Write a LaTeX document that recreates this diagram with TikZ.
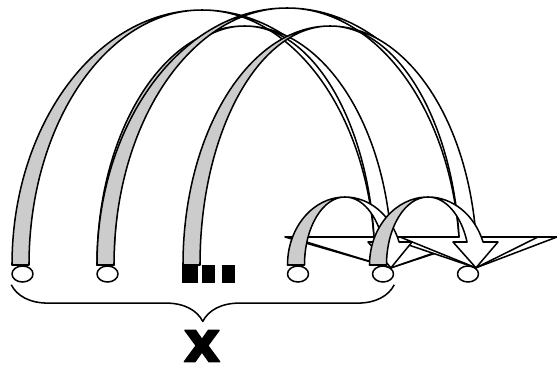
\documentclass[tikz,border=0pt]{standalone}
\usepackage{fontspec}
\newfontfamily\xfont{DejaVu Sans}[BoldFeatures={FakeBold=2.5}]
\usetikzlibrary{shapes.geometric,decorations.pathreplacing}
\definecolor{BandGray}{HTML}{CCCCCC}

% curved band arrow: centre x, x radius, y radius, width, head base y, head left x, head right x, tip
\newcommand\bandarrow[8]{%
  \pgfmathsetmacro\bandin{#2-#4}%
  \pgfmathsetmacro\bandend{360-asin((265-#5)/#3)}%
  \pgfmathsetmacro\bandinx{#1+\bandin*cos(\bandend)}%
  \filldraw[bandback] (#1-#2,265) arc[start angle=180,end angle=270,x radius=#2,y radius=#3]
    arc[start angle=270,end angle=180,x radius=\bandin,y radius=#3] -- cycle;
  \filldraw[bandfront] (#1,265-#3) arc[start angle=270,end angle=\bandend,x radius=#2,y radius=#3]
    -- (#7,#5) -- (#8) -- (#6,#5) -- (\bandinx,#5)
    arc[start angle=\bandend,end angle=270,x radius=\bandin,y radius=#3] -- cycle;
}

\begin{document}
\begin{tikzpicture}[x=0.03cm,y=-0.03cm,line width=1.3pt,line join=round,
  bandback/.style={draw=black,fill=BandGray},
  bandfront/.style={draw=black,fill=white},
  cell/.style={ellipse,draw,fill=white,minimum width=0.63cm,minimum height=0.48cm,inner sep=0pt},
  gap/.style={fill=black,minimum height=0.53cm,inner sep=0pt}]
\useasboundingbox (0,0) rectangle (557,369);

% sequence
\node[cell] (n1) at (22.5,274) {};
\node[cell] (n2) at (107.5,274) {};
\node[gap,minimum width=0.5cm] (s1) at (190,274) {};
\node[gap,minimum width=0.4cm] (s2) at (208.5,274) {};
\node[gap,minimum width=0.4cm] (s3) at (228.5,274) {};
\node[cell] (n4) at (298,274) {};
\node[cell] (n5) at (383,274) {};
\node[cell] (n6) at (468,274) {};

% long skips
\bandarrow{202}{190}{255}{17}{237}{285}{485}{n5.north east}
\bandarrow{244.5}{147.5}{239}{17}{237}{290}{480}{n5.north east}
\bandarrow{287}{190}{257}{17}{237}{385}{557}{n6.north east}
\bandarrow{330}{147}{239}{17}{237}{400}{538}{n6.north east}
% short steps
\bandarrow{345}{57.5}{68}{17}{242}{368}{412}{n5.north east}
\bandarrow{428}{58.5}{68}{17}{242}{453}{498}{n6.north east}

% brace and label
\draw[decorate,decoration={brace,mirror,amplitude=1.1cm}]
  ([yshift=-0.06cm]n1.west |- n1.south) -- ([yshift=-0.06cm]n5.east |- n5.south);
\node[inner sep=0pt] (lbl) at (202,346) {\xfont\bfseries\fontsize{49}{49}\selectfont x};
\end{tikzpicture}
\end{document}
